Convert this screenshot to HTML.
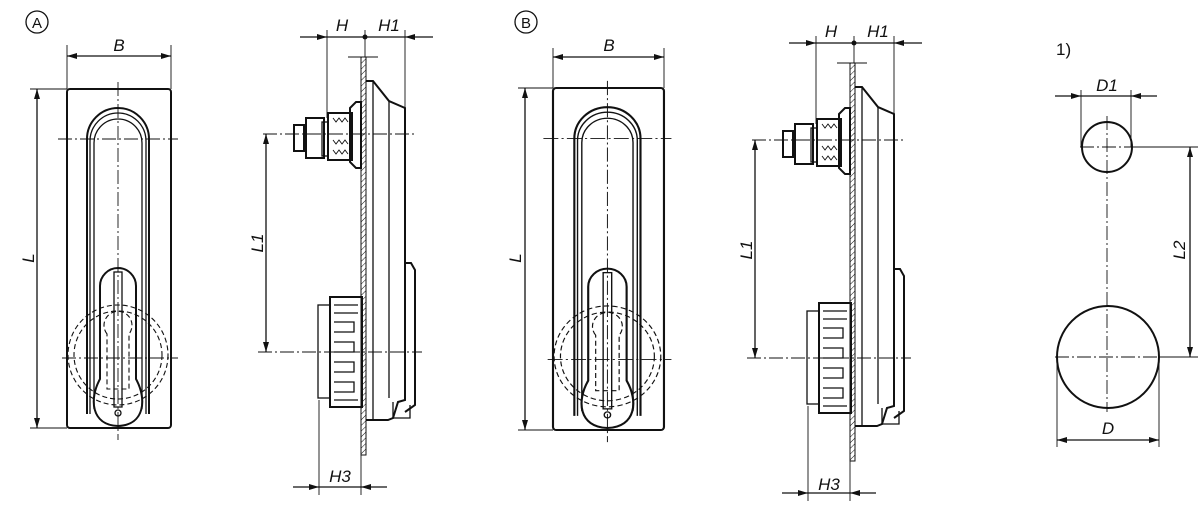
<!DOCTYPE html>
<html><head><meta charset="utf-8"><style>
html,body{margin:0;padding:0;background:#fff}
svg{display:block}
text{font-family:"Liberation Sans",sans-serif;font-style:italic;font-size:17px;fill:#111}
.t{stroke:#111;stroke-width:2;fill:none}
.m{stroke:#111;stroke-width:1.3;fill:none}
.n{stroke:#111;stroke-width:0.9;fill:none}
.c{stroke:#111;stroke-width:0.9;fill:none;stroke-dasharray:14 3 2 3}
.d{stroke:#111;stroke-width:1.1;fill:none;stroke-dasharray:5 3}
</style></head><body>
<svg width="1200" height="506" viewBox="0 0 1200 506" xmlns="http://www.w3.org/2000/svg">
<defs>
<marker id="a" viewBox="0 0 10 6" refX="10" refY="3" markerWidth="11" markerHeight="6" orient="auto-start-reverse" markerUnits="userSpaceOnUse"><path d="M0,0 L10,3 L0,6z" fill="#111"/></marker>
<pattern id="h" width="4" height="4" patternUnits="userSpaceOnUse" patternTransform="rotate(45)"><line x1="0" y1="0" x2="0" y2="4" stroke="#111" stroke-width="1"/></pattern>
<g id="front">
<rect class="t" x="0" y="0" width="104" height="339" rx="3"/>
<path class="t" d="M20,325 L20,50 A31,31 0 0 1 82,50 L82,325"/>
<path class="m" d="M23,325 L23,52 A28,28 0 0 1 79,52 L79,325"/>
<path class="m" d="M27,320 L27,54 A24,24 0 0 1 75,54 L75,320"/>
<path class="t" d="M33,290 L33,197 A18,18 0 0 1 69,197 L69,290 C80,310 78,336 51,337 C24,336 22,310 33,290z"/>
<rect class="m" x="47" y="183" width="8" height="135"/>
<circle class="m" cx="51" cy="324" r="3"/>
<circle class="d" cx="51" cy="266" r="50"/>
<circle class="d" cx="51" cy="266" r="44"/>
<path class="d" d="M40,245 A14,14 0 1 1 62,245 L62,300 L40,300z"/>
<line class="c" x1="51" y1="-7" x2="51" y2="351"/>
<line class="c" x1="-9" y1="50" x2="111" y2="50"/>
<line class="c" x1="-5" y1="269" x2="111" y2="269"/>
</g>
<g id="side">
<rect x="361" y="57" width="5" height="398" fill="url(#h)" stroke="#111" stroke-width="1"/>
<line class="n" x1="348" y1="57" x2="378" y2="57"/>
<path class="t" d="M366,81 L373,81 L389,101 L405,108 L405,400 L398,402 L393,418 L388,420 L373,420 L366,420"/>
<line class="m" x1="373" y1="81" x2="373" y2="420"/>
<line class="m" x1="389" y1="101" x2="389" y2="398"/>
<path class="t" d="M405,263 L411,263 L415,270 L415,405 L405,412"/>
<path class="m" d="M393,402 L393,418 L410,418 L410,405"/>
<rect class="t" x="330" y="297" width="32" height="110"/>
<rect class="m" x="318" y="305" width="12" height="93"/>
<path class="m" d="M334,305h24M334,313h24M334,322h20v10h-20M334,342h20v10h-20M334,362h20v10h-20M334,382h20v10h-20M334,400h24"/>
<rect class="t" x="328" y="113" width="24" height="47"/>
<path class="n" d="M333,118 l3,4 l3,-4 l3,4 l3,-4 l3,4 M333,140 l3,4 l3,-4 l3,4 l3,-4 l3,4 M333,150 l3,4 l3,-4 l3,4 l3,-4 l3,4"/>
<path class="t" d="M350,108 L356,102 L361,102 L361,168 L356,168 L350,162z"/>
<rect class="t" x="306" y="118" width="18" height="40"/>
<rect class="m" x="322" y="122" width="6" height="34"/>
<rect class="t" x="294" y="125" width="10" height="26"/>
<line class="c" x1="263" y1="134" x2="415" y2="134"/>
<line class="c" x1="258" y1="352" x2="422" y2="352"/>
<line class="m" x1="266" y1="134" x2="266" y2="352" marker-start="url(#a)" marker-end="url(#a)"/>
<line class="m" x1="300" y1="37" x2="327" y2="37" marker-end="url(#a)"/>
<line class="m" x1="327" y1="37" x2="405" y2="37"/>
<line class="m" x1="433" y1="37" x2="405" y2="37" marker-end="url(#a)"/>
<line class="n" x1="327" y1="30" x2="327" y2="118"/>
<line class="n" x1="405" y1="30" x2="405" y2="108"/>
<line class="n" x1="365" y1="30" x2="365" y2="57"/>
<circle cx="365" cy="37" r="2.5" fill="#111"/>
<line class="m" x1="293" y1="487" x2="319" y2="487" marker-end="url(#a)"/>
<line class="m" x1="319" y1="487" x2="361" y2="487"/>
<line class="m" x1="387" y1="487" x2="361" y2="487" marker-end="url(#a)"/>
<line class="n" x1="319" y1="400" x2="319" y2="495"/>
<line class="n" x1="361" y1="455" x2="361" y2="495"/>
</g>
</defs>

<circle class="m" cx="37" cy="22" r="11"/><text x="37" y="28" text-anchor="middle" style="font-style:normal;font-size:15px">A</text>
<use href="#front" transform="translate(67,89)"/>
<line class="m" x1="67" y1="56" x2="171" y2="56" marker-start="url(#a)" marker-end="url(#a)"/>
<line class="n" x1="67" y1="45" x2="67" y2="89"/><line class="n" x1="171" y1="45" x2="171" y2="89"/>
<text x="119" y="51" text-anchor="middle">B</text>
<line class="m" x1="37" y1="89" x2="37" y2="428" marker-start="url(#a)" marker-end="url(#a)"/>
<line class="n" x1="30" y1="89" x2="67" y2="89"/><line class="n" x1="30" y1="428" x2="67" y2="428"/>
<text transform="translate(34,258) rotate(-90)" text-anchor="middle">L</text>
<use href="#side"/>
<text x="342" y="31" text-anchor="middle">H</text>
<text x="389" y="31" text-anchor="middle">H1</text>
<text transform="translate(263,243) rotate(-90)" text-anchor="middle">L1</text>
<text x="340" y="482" text-anchor="middle">H3</text>

<circle class="m" cx="526" cy="22" r="11"/><text x="526" y="28" text-anchor="middle" style="font-style:normal;font-size:15px">B</text>
<use href="#front" transform="translate(553,88) scale(1.067,1.009)"/>
<line class="m" x1="553" y1="57" x2="664" y2="57" marker-start="url(#a)" marker-end="url(#a)"/>
<line class="n" x1="553" y1="48" x2="553" y2="88"/><line class="n" x1="664" y1="48" x2="664" y2="88"/>
<text x="609" y="51" text-anchor="middle">B</text>
<line class="m" x1="525" y1="88" x2="525" y2="430" marker-start="url(#a)" marker-end="url(#a)"/>
<line class="n" x1="518" y1="88" x2="553" y2="88"/><line class="n" x1="518" y1="430" x2="553" y2="430"/>
<text transform="translate(521,258) rotate(-90)" text-anchor="middle">L</text>
<use href="#side" transform="translate(489,6)"/>
<text x="831" y="37" text-anchor="middle">H</text>
<text x="878" y="37" text-anchor="middle">H1</text>
<text transform="translate(752,250) rotate(-90)" text-anchor="middle">L1</text>
<text x="829" y="490" text-anchor="middle">H3</text>

<text x="1056" y="55" style="font-style:normal">1)</text>
<circle class="t" cx="1107" cy="147" r="25"/>
<circle class="t" cx="1108" cy="357" r="51"/>
<line class="c" x1="1107" y1="116" x2="1107" y2="412"/>
<line class="c" x1="1080" y1="147" x2="1134" y2="147"/>
<line class="c" x1="1055" y1="357" x2="1160" y2="357"/>
<line class="m" x1="1055" y1="96" x2="1081" y2="96" marker-end="url(#a)"/>
<line class="m" x1="1081" y1="96" x2="1131" y2="96"/>
<line class="m" x1="1157" y1="96" x2="1131" y2="96" marker-end="url(#a)"/>
<line class="n" x1="1081" y1="90" x2="1081" y2="147"/><line class="n" x1="1131" y1="90" x2="1131" y2="147"/>
<text x="1107" y="91" text-anchor="middle">D1</text>
<line class="n" x1="1134" y1="147" x2="1198" y2="147"/><line class="n" x1="1160" y1="357" x2="1198" y2="357"/>
<line class="m" x1="1190" y1="147" x2="1190" y2="357" marker-start="url(#a)" marker-end="url(#a)"/>
<text transform="translate(1185,250) rotate(-90)" text-anchor="middle">L2</text>
<line class="n" x1="1057" y1="357" x2="1057" y2="447"/><line class="n" x1="1159" y1="357" x2="1159" y2="447"/>
<line class="m" x1="1057" y1="440" x2="1159" y2="440" marker-start="url(#a)" marker-end="url(#a)"/>
<text x="1108" y="434" text-anchor="middle">D</text>
</svg>
</body></html>
